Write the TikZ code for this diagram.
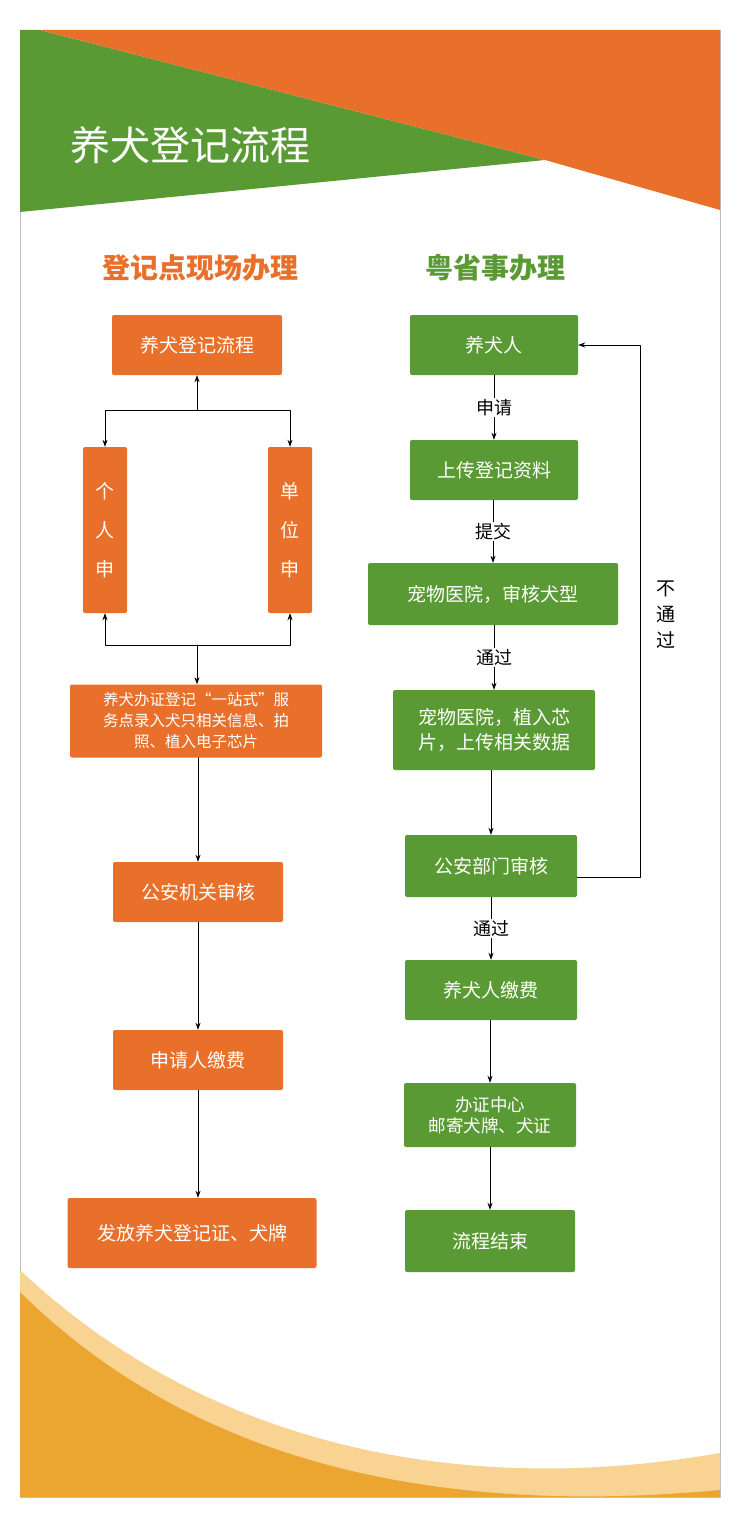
\documentclass[tikz,border=0pt]{standalone}
\usepackage{fontspec}
\setmainfont{Noto Sans CJK SC}
\usetikzlibrary{positioning,arrows.meta}
\definecolor{dogorange}{HTML}{E8702A}
\definecolor{doggreen}{HTML}{5A9A35}
\definecolor{doggold}{HTML}{EBA632}
\definecolor{doglight}{HTML}{F8D392}
\tikzset{
  obox/.style={fill=dogorange, text=white, rounded corners=2pt, align=center, font=\fontsize{19}{25}\selectfont, inner sep=2pt},
  gbox/.style={fill=doggreen, text=white, rounded corners=2pt, align=center, font=\fontsize{19}{25}\selectfont, inner sep=2pt},
  flow/.style={-{Stealth[length=7pt,width=5pt]}, line width=0.8pt},
  lbl/.style={font=\fontsize{18}{22}\selectfont, fill=white, inner sep=1pt}
}
\begin{document}
\begin{tikzpicture}[x=1pt, y=-1pt, line cap=round, line join=round]
                \useasboundingbox (0,0) rectangle (736,1517);
                \fill[white] (0,0) rectangle (736,1517);
                % panel and background shapes
                \draw[gray!50] (20,30) rectangle (720,1497);
                \fill[doggreen] (20,30) -- (40,30) -- (545,160) -- (20,212) -- cycle;
                \fill[dogorange] (40,30) -- (720,30) -- (720,210) -- (545,160) -- cycle;
                \fill[doglight] (20,1270) .. controls (200,1440) and (450,1500) .. (720,1453) -- (720,1497) -- (20,1497) -- cycle;
                \fill[doggold] (20,1292) .. controls (200,1470) and (450,1515) .. (720,1490) -- (720,1497) -- (20,1497) -- cycle;
                \node[text=white, font=\fontsize{40}{42}\selectfont] (title) at (190,145) {养犬登记流程};
                \node[text=dogorange, font=\fontsize{28}{30}\bfseries\selectfont] (hleft) at (200,268) {登记点现场办理};
                \node[text=doggreen, font=\fontsize{28}{30}\bfseries\selectfont] (hright) at (495,268) {粤省事办理};
                % left column
                \node[obox, minimum width=170pt, minimum height=60pt] (l1) at (197,345) {养犬登记流程};
                \node[obox, minimum width=44pt, minimum height=166pt] (l2a) at (105,530) {个\\[14pt]人\\[14pt]申};
                \node[obox, minimum width=44pt, minimum height=166pt] (l2b) at (290,530) {单\\[14pt]位\\[14pt]申};
                \node[obox, minimum width=252pt, minimum height=73pt, font=\fontsize{15.5}{21}\selectfont] (l3) at (196,721) {养犬办证登记“一站式”服\\务点录入犬只相关信息、拍\\照、植入电子芯片};
                \node[obox, minimum width=170pt, minimum height=60pt] (l4) at (198,892) {公安机关审核};
                \node[obox, minimum width=170pt, minimum height=60pt] (l5) at (198,1060) {申请人缴费};
                \node[obox, minimum width=249pt, minimum height=70pt] (l6) at (192,1233) {发放养犬登记证、犬牌};
                \coordinate (lt) at (197,410);
                \coordinate (lb) at (197,645);
                \draw[flow] (lt) -- (l1);
                \draw[flow] (lt) -| (l2a);
                \draw[flow] (lt) -| (l2b);
                \draw[flow] (lb) -| (l2a);
                \draw[flow] (lb) -| (l2b);
                \draw[flow] (lb) -- (lb |- l3.north);
                \draw[flow] (l3.south -| l4) -- (l4);
                \draw[flow] (l4) -- (l5);
                \draw[flow] (l5.south -| l5) -- (l5.south |- l6.north);
                % right column
                \node[gbox, minimum width=168pt, minimum height=60pt] (r1) at (494,345) {养犬人};
                \node[gbox, minimum width=168pt, minimum height=60pt] (r2) at (494,470) {上传登记资料};
                \node[gbox, minimum width=250pt, minimum height=62pt] (r3) at (493,594) {宠物医院，审核犬型};
                \node[gbox, minimum width=202pt, minimum height=80pt] (r4) at (494,730) {宠物医院，植入芯\\片，上传相关数据};
                \node[gbox, minimum width=172pt, minimum height=62pt] (r5) at (491,866) {公安部门审核};
                \node[gbox, minimum width=172pt, minimum height=60pt] (r6) at (491,990) {养犬人缴费};
                \node[gbox, minimum width=172pt, minimum height=64pt, font=\fontsize{17.5}{21}\selectfont] (r7) at (490,1115) {办证中心\\邮寄犬牌、犬证};
                \node[gbox, minimum width=170pt, minimum height=62pt] (r8) at (490,1241) {流程结束};
                \draw[flow] (r1) -- node[lbl] {申请} (r2);
                \draw[flow] (r2.south -| r3) -- node[lbl] {提交} (r3);
                \draw[flow] (r3.south -| r4) -- node[lbl] {通过} (r4);
                \draw[flow] (r4.south -| r5) -- (r5);
                \draw[flow] (r5) -- node[lbl] {通过} (r6);
                \draw[flow] (r6.south -| r7) -- (r7);
                \draw[flow] (r7) -- (r8);
                \coordinate (rb) at (640,877);
                \coordinate (rt) at (640,345);
                \draw[flow] (r5.east |- rb) -- (rb) -- (rt) -- (r1.east);
                \node[font=\fontsize{19}{26}\selectfont, align=center] (nopass) at (666,615) {不\\通\\过};
\end{tikzpicture}
\end{document}
